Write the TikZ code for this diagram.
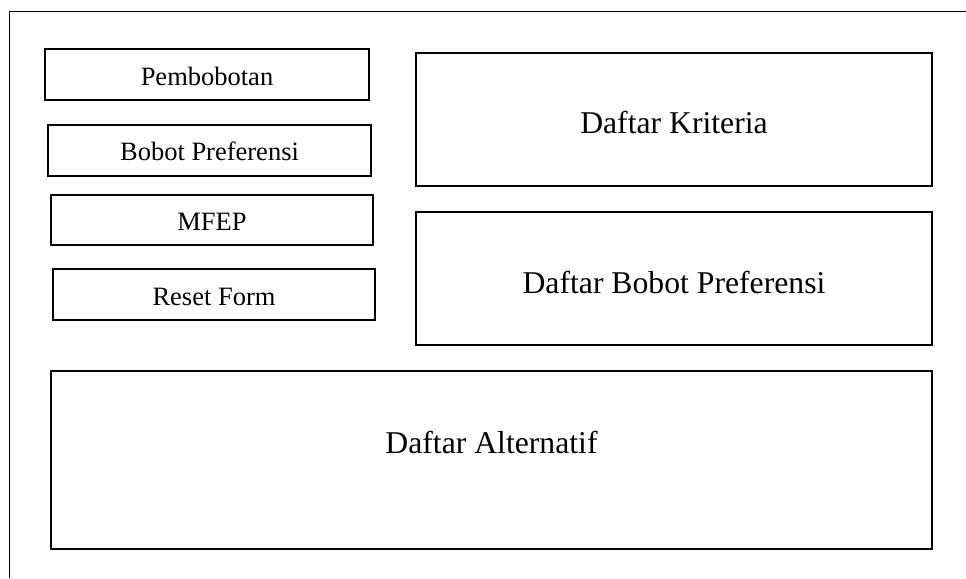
\documentclass[tikz,border=0pt]{standalone}
\usepackage{fontspec}
\setmainfont{Liberation Serif}
\begin{document}
\begin{tikzpicture}[x=1pt,y=-1pt,
  menubox/.style={draw=black,line width=1.6pt,minimum width=#1,minimum height=51pt,
    inner sep=0pt,font=\fontsize{26.5}{30}\selectfont},
  panel/.style={draw=black,line width=1.8pt,inner sep=0pt,font=\fontsize{31.7}{36}\selectfont},
  % text height/depth place the baseline inside each box
  raise/.style={text height=#1,text depth=0pt},
  sink/.style={text height=0pt,text depth=#1}]
\useasboundingbox (0,0) rectangle (966,578);
% window frame (only top and left edges are visible)
\draw[line width=1.6pt] (9.5,578) -- (9.5,11.5) -- (966,11.5);
% menu buttons on the left
\node[menubox=324pt,raise=21pt] (pemb) at (207,74.5) {Pembobotan};
\node[menubox=323pt,raise=19pt] (bobot) at (209.5,150.5) {Bobot Preferensi};
\node[menubox=322pt,minimum height=50pt,raise=20pt] (mfep) at (212,220) {MFEP};
\node[menubox=322pt,raise=21pt] (reset) at (214,294.5) {Reset Form};
% list panels
\node[panel,minimum width=516pt,minimum height=133pt,raise=27pt] (krit) at (674,119.5) {Daftar Kriteria};
\node[panel,minimum width=516pt,minimum height=133pt,raise=29.6pt] (bpref) at (674,278.5) {Daftar Bobot Preferensi};
\node[panel,minimum width=881pt,minimum height=178pt,sink=13.4pt] (alt) at (491.5,460) {Daftar Alternatif};
\end{tikzpicture}
\end{document}
